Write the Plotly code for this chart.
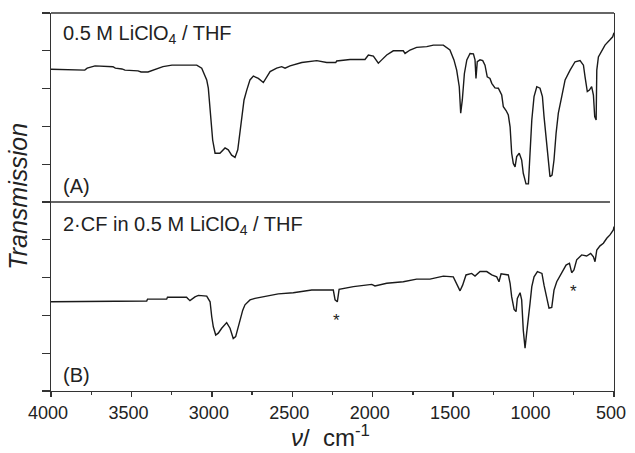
import plotly.graph_objects as go

# ---------------- data ----------------
wn_a = [4000, 3790, 3775, 3726, 3615, 3600, 3559, 3540, 3459, 3440, 3397, 3353, 3304, 3248, 3094,
        3063, 3032, 3022, 3007, 2995, 2980, 2950, 2918, 2898, 2877, 2856, 2839, 2825, 2811, 2800,
        2783, 2763, 2742, 2711, 2680, 2663, 2638, 2597, 2566, 2545, 2514, 2441, 2348, 2286, 2230,
        2224, 2141, 2048, 2027, 1996, 1965, 1944, 1913, 1872, 1810, 1799, 1768, 1727, 1664, 1623,
        1561, 1520, 1495, 1478, 1462, 1453, 1443, 1430, 1415, 1395, 1374, 1364, 1358, 1350, 1333,
        1316, 1302, 1288, 1271, 1260, 1240, 1219, 1198, 1188, 1171, 1157, 1146, 1136, 1126, 1115,
        1105, 1089, 1074, 1064, 1047, 1032, 1022, 1011, 997, 980, 960, 945, 935, 918, 907, 898,
        885, 873, 860, 846, 825, 804, 773, 742, 711, 690, 680, 666, 653, 639, 628, 620, 611, 607,
        597, 576, 556, 525, 508, 500]
tr_a = [3.51, 3.49, 3.54, 3.60, 3.58, 3.54, 3.52, 3.49, 3.47, 3.44, 3.44, 3.51, 3.58, 3.62, 3.62,
        3.54, 3.23, 3.01, 2.09, 1.64, 1.29, 1.29, 1.43, 1.38, 1.24, 1.18, 1.38, 1.82, 2.35, 2.70,
        2.96, 3.23, 3.33, 3.27, 3.16, 3.27, 3.45, 3.54, 3.58, 3.54, 3.60, 3.69, 3.74, 3.69, 3.69,
        3.73, 3.77, 3.77, 3.89, 3.86, 3.67, 3.76, 3.89, 4.00, 4.00, 3.93, 4.02, 4.09, 4.11, 4.15,
        4.15, 4.02, 3.76, 3.49, 3.05, 2.35, 2.70, 3.40, 3.76, 3.93, 3.92, 3.76, 3.27, 3.71, 3.76,
        3.74, 3.62, 3.31, 3.27, 3.14, 3.02, 3.01, 2.83, 2.52, 2.42, 2.30, 1.99, 1.29, 1.02, 0.93,
        1.20, 1.29, 1.11, 0.76, 0.48, 0.48, 1.29, 2.17, 2.79, 3.05, 3.01, 2.79, 2.26, 1.46, 0.93, 0.67,
        0.71, 1.11, 1.82, 2.35, 2.79, 3.23, 3.49, 3.71, 3.74, 3.62, 3.31, 2.92, 2.96, 3.05, 2.83, 2.26, 2.17, 3.49,
        3.84, 4.02, 4.15, 4.29, 4.37, 4.48]

wn_b = [4000, 3793, 3790, 3405, 3400, 3281, 3276, 3157, 3150, 3136, 3105, 3084, 3032, 3011, 3001,
        2991, 2976, 2960, 2939, 2908, 2887, 2867, 2852, 2836, 2815, 2808, 2794, 2763, 2732, 2701,
        2659, 2587, 2494, 2379, 2245, 2234, 2220, 2209, 2120, 2006, 1986, 1913, 1810, 1727, 1644,
        1582, 1561, 1499, 1478, 1457, 1441, 1420, 1385, 1364, 1333, 1291, 1260, 1229, 1215, 1202,
        1157, 1146, 1136, 1121, 1109, 1101, 1084, 1074, 1064, 1053, 1043, 1032, 1022, 1011, 997,
        976, 948, 935, 918, 904, 887, 873, 856, 825, 798, 777, 763, 749, 732, 701, 670, 645, 628,
        618, 607, 587, 566, 545, 525, 504, 500]
tr_b = [2.36, 2.36, 2.38, 2.38, 2.43, 2.43, 2.48, 2.48, 2.45, 2.39, 2.49, 2.53, 2.51, 2.36, 1.97,
        1.70, 1.48, 1.53, 1.66, 1.81, 1.66, 1.39, 1.44, 1.70, 2.05, 2.14, 2.28, 2.41, 2.45, 2.48,
        2.51, 2.57, 2.60, 2.67, 2.67, 2.41, 2.36, 2.69, 2.76, 2.82, 2.78, 2.85, 2.89, 2.96, 2.96,
        3.01, 3.04, 3.02, 2.85, 2.65, 2.80, 3.07, 3.11, 3.04, 3.16, 3.16, 3.07, 3.02, 2.89, 3.10,
        3.07, 2.85, 2.49, 2.16, 2.10, 2.45, 2.60, 2.41, 1.61, 1.13, 1.53, 1.88, 2.32, 2.76, 3.02,
        3.16, 3.11, 2.80, 2.41, 2.19, 2.21, 2.67, 2.89, 3.11, 3.33, 3.38, 3.13, 3.20, 3.47, 3.60, 3.57, 3.64, 3.55,
        3.42, 3.73, 3.84, 3.91, 4.04, 4.13, 4.26, 4.35]

star_wn = [2228, 753]
star_tr = [1.98, 2.73]

x_ticks = [4000, 3500, 3000, 2500, 2000, 1500, 1000, 500]
x_tick_labels = [str(v) for v in x_ticks]
y_ticks = [0, 1, 2, 3, 4, 5]

label_a = "0.5 M LiClO<sub>4</sub> / THF"
label_b = "2·CF in 0.5 M LiClO<sub>4</sub> / THF"
x_title = "<i>ν</i>/  cm<sup>-1</sup>"
y_title = "<i>Transmission</i>"

# ---------------- figure ----------------
LINE = "#1a1a1a"
FRAME = "#333333"
TEXT = "#222222"
FONT = "Liberation Sans, Arial, sans-serif"

fig = go.Figure()
fig.add_trace(go.Scatter(x=wn_a, y=tr_a, mode="lines", xaxis="x", yaxis="y2",
                         line=dict(color=LINE, width=1.4), showlegend=False, hoverinfo="skip"))
fig.add_trace(go.Scatter(x=wn_b, y=tr_b, mode="lines", xaxis="x", yaxis="y",
                         line=dict(color=LINE, width=1.4), showlegend=False, hoverinfo="skip"))

yax = dict(range=[0, 5], tickmode="array", tickvals=y_ticks, ticks="outside", ticklen=8,
           tickwidth=1.3, tickcolor=FRAME, showticklabels=False, showline=True,
           linecolor=FRAME, linewidth=1.3, mirror=True, showgrid=False, zeroline=False,
           automargin=False)

fig.update_layout(
    width=635, height=453,
    margin=dict(l=51, r=21, t=13, b=62, autoexpand=False),
    paper_bgcolor="white", plot_bgcolor="white",
    font=dict(family=FONT, color=TEXT),
    hovermode=False,
    xaxis=dict(range=[4000, 500], anchor="y", tickmode="array", tickvals=x_ticks,
               ticktext=x_tick_labels, ticks="outside", ticklen=5, tickwidth=1.3,
               tickcolor=FRAME, tickfont=dict(size=18, family=FONT, color=TEXT),
               ticklabelshift=3,
               minor=dict(ticks="outside", ticklen=3, tickwidth=1.2, tickcolor=FRAME,
                          tick0=0, dtick=250),
               showline=True, linecolor=FRAME, linewidth=1.3, mirror=False,
               showgrid=False, zeroline=False, automargin=False),
    yaxis=dict(domain=[0, 0.5], **yax),
    yaxis2=dict(domain=[0.5, 1], anchor="x", **yax),
    shapes=[
        dict(type="line", xref="paper", yref="paper", x0=0, x1=1, y0=1, y1=1,
             line=dict(color=FRAME, width=1.3)),
        dict(type="line", xref="x", yref="paper", x0=4000, x1=525, y0=0.5, y1=0.5,
             line=dict(color=FRAME, width=1.3)),
    ],
    annotations=[
        dict(text=label_a, xref="paper", yref="paper", x=0.0178, y=0.942,
             xanchor="left", yanchor="middle", showarrow=False, font=dict(size=20, color=TEXT)),
        dict(text="(A)", xref="paper", yref="paper", x=0.0178, y=0.542,
             xanchor="left", yanchor="middle", showarrow=False, font=dict(size=20, color=TEXT)),
        dict(text=label_b, xref="paper", yref="paper", x=0.0178, y=0.439,
             xanchor="left", yanchor="middle", showarrow=False, font=dict(size=20, color=TEXT)),
        dict(text="(B)", xref="paper", yref="paper", x=0.0178, y=0.042,
             xanchor="left", yanchor="middle", showarrow=False, font=dict(size=20, color=TEXT)),
        dict(text=y_title, xref="paper", yref="paper", x=-0.058, y=0.515,
             xanchor="center", yanchor="middle", textangle=-90, showarrow=False,
             font=dict(size=25, color=TEXT)),
        dict(text=x_title, xref="paper", yref="paper", x=0.496, y=-0.118,
             xanchor="center", yanchor="middle", showarrow=False,
             font=dict(size=24, color=TEXT)),
    ] + [
        dict(text="*", x=w, y=t, xref="x", yref="y", showarrow=False, yshift=-4,
             xanchor="center", yanchor="middle", font=dict(size=17, color=TEXT))
        for w, t in zip(star_wn, star_tr)
    ],
)

fig.write_html("out.html", config={"displayModeBar": False, "staticPlot": True},
               post_script="document.body.style.margin='0';document.body.style.overflow='hidden';")
